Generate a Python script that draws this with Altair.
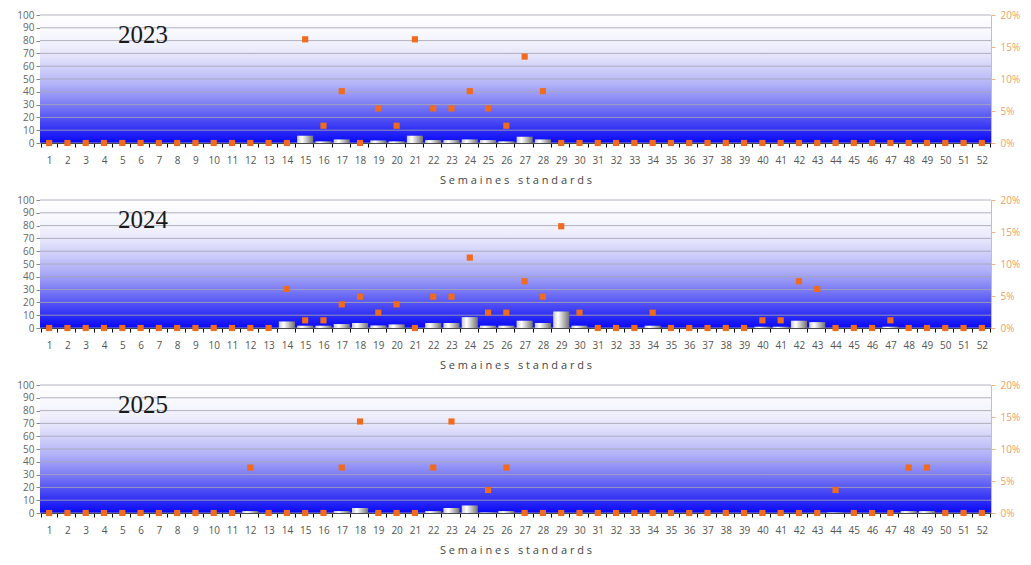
import altair as alt
import pandas as pd

weeks = list(range(1, 53))
years = ["2023", "2024", "2025"]

# bar values (left axis, 0-100)
bars_2023 = [0, 0, 0, 0, 0, 0, 0, 0, 0, 0,
             0, 0, 0, 0, 5.7, 1.3, 2.8, 0, 2.0, 1.3,
             5.7, 2.3, 2.3, 2.8, 2.3, 1.3, 4.9, 2.8, 0, 0,
             0, 0, 0, 0, 0, 0, 0, 0, 0, 0,
             0, 0, 0, 0, 0, 0, 0, 0, 0, 0,
             0, 0]
bars_2024 = [0, 0, 0, 0, 0, 0, 0, 0, 0, 0,
             0, 0, 0, 5.1, 1.8, 1.8, 3.1, 3.9, 2.0, 2.8,
             0, 3.9, 3.9, 8.5, 1.8, 1.8, 5.7, 3.9, 12.9, 1.8,
             0, 0, 0, 1.8, 0, 0, 0, 0, 0, 1.0,
             1.0, 5.7, 4.6, 0, 0, 0, 1.0, 0, 0, 0,
             0, 0]
bars_2025 = [0, 0, 0, 0, 0, 0, 0, 0, 0, 0,
             0, 1.5, 0, 0, 0, 0, 1.5, 3.9, 0, 0,
             0, 1.5, 3.9, 5.9, 0.4, 1.5, 0, 0, 0, 0,
             0, 0, 0, 0, 0, 0, 0, 0, 0, 0,
             0, 0, 0, 0.4, 0, 0, 0, 1.5, 1.5, 0,
             0, 0]

# point values (right axis, percent)
pct_2023 = [0, 0, 0, 0, 0, 0, 0, 0, 0, 0,
            0, 0, 0, 0, 16.2, 2.7, 8.1, 0, 5.4, 2.7,
            16.2, 5.4, 5.4, 8.1, 5.4, 2.7, 13.5, 8.1, 0, 0,
            0, 0, 0, 0, 0, 0, 0, 0, 0, 0,
            0, 0, 0, 0, 0, 0, 0, 0, 0, 0,
            0, 0]
pct_2024 = [0, 0, 0, 0, 0, 0, 0, 0, 0, 0,
            0, 0, 0, 6.1, 1.2, 1.2, 3.7, 4.9, 2.4, 3.7,
            0, 4.9, 4.9, 11.0, 2.4, 2.4, 7.3, 4.9, 15.9, 2.4,
            0, 0, 0, 2.4, 0, 0, 0, 0, 0, 1.2,
            1.2, 7.3, 6.1, 0, 0, 0, 1.2, 0, 0, 0,
            0, 0]
pct_2025 = [0, 0, 0, 0, 0, 0, 0, 0, 0, 0,
            0, 7.1, 0, 0, 0, 0, 7.1, 14.3, 0, 0,
            0, 7.1, 14.3, None, 3.6, 7.1, 0, 0, 0, 0,
            0, 0, 0, 0, 0, 0, 0, 0, 0, 0,
            0, 0, 0, 3.6, 0, 0, 0, 7.1, 7.1, 0,
            0, 0]

left_ticks = [0, 10, 20, 30, 40, 50, 60, 70, 80, 90, 100]
right_ticks = [0, 5, 10, 15, 20]
NB = "\u00a0"
x_title = "S e m a i n e s" + NB + NB + NB + "s t a n d a r d s"

FONT = "Open Sans"
W, H = 951, 128

bg_gradient = alt.Gradient(
    gradient="linear", x1=0, y1=0, x2=0, y2=1,
    stops=[
        alt.GradientStop(offset=0.0, color="#ffffff"),
        alt.GradientStop(offset=0.2, color="#f4f4fd"),
        alt.GradientStop(offset=0.33, color="#e2e2fb"),
        alt.GradientStop(offset=0.45, color="#c8c8f9"),
        alt.GradientStop(offset=0.55, color="#b0b0f8"),
        alt.GradientStop(offset=0.65, color="#8e8ef6"),
        alt.GradientStop(offset=0.75, color="#6a6af4"),
        alt.GradientStop(offset=0.85, color="#4242f4"),
        alt.GradientStop(offset=0.93, color="#2222f6"),
        alt.GradientStop(offset=1.0, color="#0808f8"),
    ],
)
bar_gradient = alt.Gradient(
    gradient="linear", x1=0, y1=0, x2=1, y2=0,
    stops=[
        alt.GradientStop(offset=0.0, color="#c8c8c8"),
        alt.GradientStop(offset=0.3, color="#ffffff"),
        alt.GradientStop(offset=1.0, color="#727272"),
    ],
)


def panel(year, bars, pct):
    df = pd.DataFrame({"week": weeks, "bar": bars, "pct": pct})
    xenc = alt.X(
        "week:O",
        scale=alt.Scale(paddingInner=0.12, paddingOuter=0.06),
        axis=alt.Axis(
            title=x_title, labelAngle=0, tickBand="extent", tickSize=4,
            tickColor="#000000", domainColor="#000000", labelColor="#555555",
            labelFontSize=10, labelFont=FONT, labelPadding=8,
            titleFont=FONT, titleFontSize=11, titleFontWeight="normal",
            titleColor="#444444", titlePadding=9,
        ),
    )
    bg = alt.Chart(pd.DataFrame({"k": [year]})).mark_rect(color=bg_gradient).encode(
        x=alt.value(0), x2=alt.value("width"), y=alt.value(0), y2=alt.value("height")
    )
    grid = alt.Chart(pd.DataFrame({"tick": left_ticks})).mark_rule(
        color="#a4a4b4", opacity=0.85, strokeWidth=1
    ).encode(y=alt.Y("tick:Q", scale=alt.Scale(domain=[0, 100]), axis=None))
    b = alt.Chart(df).mark_bar(color=bar_gradient).encode(
        x=xenc,
        y=alt.Y(
            "bar:Q",
            scale=alt.Scale(domain=[0, 100]),
            axis=alt.Axis(
                title=None, values=left_ticks, grid=False, tickSize=4,
                tickColor="#888888", domainColor="#888888", labelColor="#666666",
                labelFontSize=10, labelFont=FONT, labelPadding=2,
            ),
        ),
    )
    p = alt.Chart(df).mark_square(size=38, color="#f26a1b", opacity=1).encode(
        x=alt.X("week:O"),
        y=alt.Y(
            "pct:Q",
            scale=alt.Scale(domain=[0, 20]),
            axis=alt.Axis(
                title=None, orient="right", values=right_ticks, grid=False,
                labelExpr="datum.value + '%'", tickSize=4, tickColor="#f5b27a",
                domainColor="#f5b27a", labelColor="#f0a060", labelFontSize=10,
                labelFont=FONT, labelPadding=5,
            ),
        ),
    )
    t = alt.Chart(pd.DataFrame({"year": [year]})).mark_text(
        font="Liberation Serif", fontSize=25, color="#1a1a1a", align="center",
        baseline="middle",
    ).encode(text="year:N", x=alt.value(103), y=alt.value(20))
    return alt.layer(bg, grid, b, p, t).resolve_scale(y="independent").properties(
        width=W, height=H
    )


chart = alt.vconcat(
    panel(years[0], bars_2023, pct_2023),
    panel(years[1], bars_2024, pct_2024),
    panel(years[2], bars_2025, pct_2025),
    spacing=10,
).properties(
    padding={"left": 8, "top": 2, "right": 0, "bottom": 0}
).configure_view(strokeWidth=0)

chart.save("out.html", embed_options={"renderer": "svg", "actions": False})
